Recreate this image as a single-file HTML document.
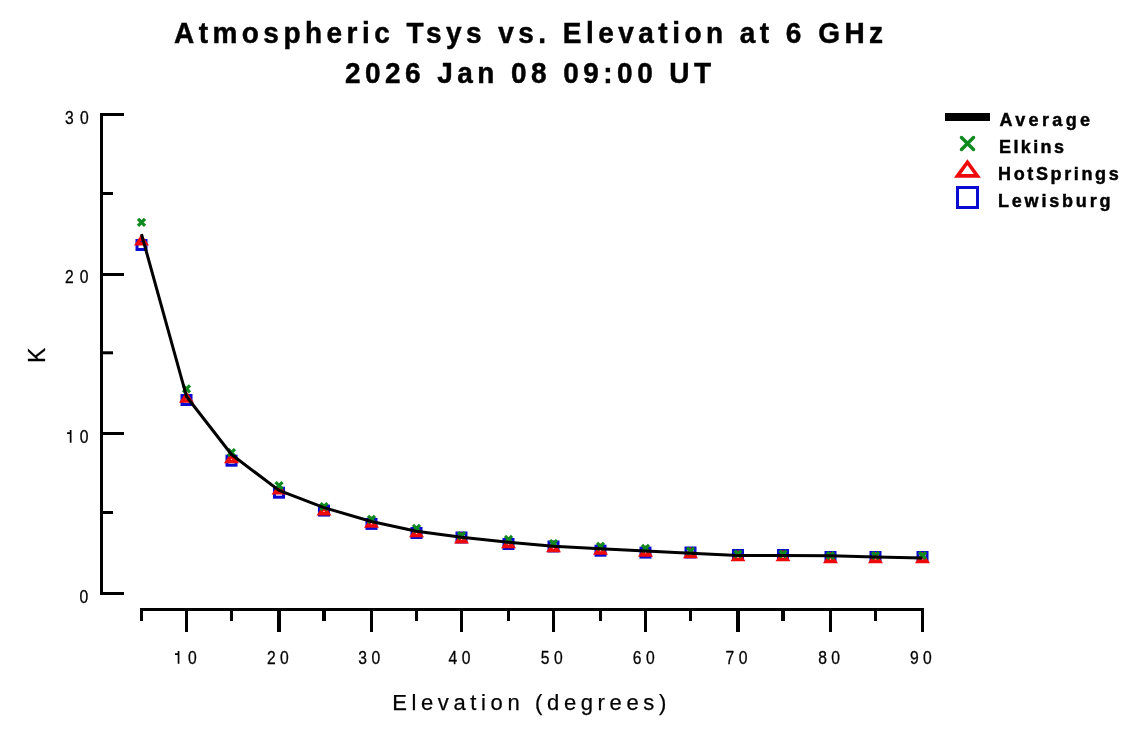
<!DOCTYPE html>
<html><head><meta charset="utf-8">
<style>
html,body{margin:0;padding:0;background:#fff;width:1125px;height:731px;overflow:hidden}
svg{position:absolute;left:0;top:0;will-change:transform}
text{font-family:"Liberation Sans",sans-serif;fill:#000}
.b{font-weight:bold;stroke:#000;stroke-width:0.45px}
.r{stroke:#000;stroke-width:0.25px}
.tkl{stroke-width:0.3px}
</style></head>
<body>
<svg width="1125" height="731" viewBox="0 0 1125 731">
<text class="b" x="0" y="0" transform="translate(173.96,42.91) scale(1,1.05)" style="font-size:28px;letter-spacing:4.475px">Atmospheric Tsys vs. Elevation at 6 GHz</text>
<text class="b" x="0" y="0" transform="translate(345.08,82.99) scale(1,1.05)" style="font-size:28px;letter-spacing:4.447px">2026 Jan 08 09:00 UT</text>
<text class="r tkl" x="0" y="0" transform="translate(65.02,124.14) scale(0.87,1)" style="font-size:18px;letter-spacing:7.218px">30</text>
<text class="r tkl" x="0" y="0" transform="translate(65.00,283.11) scale(0.87,1)" style="font-size:18px;letter-spacing:6.949px">20</text>
<text class="r tkl" x="0" y="0" transform="translate(79.39,602.83) scale(0.87,1)" style="font-size:18px;letter-spacing:5.057px">0</text>
<text class="r tkl" x="0" y="0" transform="translate(266.91,663.89) scale(0.87,1)" style="font-size:18px;letter-spacing:5.057px">20</text>
<text class="r tkl" x="0" y="0" transform="translate(358.30,663.89) scale(0.87,1)" style="font-size:18px;letter-spacing:5.057px">30</text>
<text class="r tkl" x="0" y="0" transform="translate(448.58,664.25) scale(0.87,1)" style="font-size:18px;letter-spacing:5.057px">40</text>
<text class="r tkl" x="0" y="0" transform="translate(540.86,664.25) scale(0.87,1)" style="font-size:18px;letter-spacing:5.057px">50</text>
<text class="r tkl" x="0" y="0" transform="translate(632.85,663.58) scale(0.87,1)" style="font-size:18px;letter-spacing:5.057px">60</text>
<text class="r tkl" x="0" y="0" transform="translate(725.55,664.25) scale(0.87,1)" style="font-size:18px;letter-spacing:5.057px">70</text>
<text class="r tkl" x="0" y="0" transform="translate(818.25,663.91) scale(0.87,1)" style="font-size:18px;letter-spacing:5.057px">80</text>
<text class="r tkl" x="0" y="0" transform="translate(909.89,663.81) scale(0.87,1)" style="font-size:18px;letter-spacing:5.057px">90</text>
<path d="M67.10,432.20 L69.80,432.20 L69.80,430.00 L71.50,430.00 L71.50,442.80 L69.80,442.80 L69.80,434.00 L67.10,434.00 Z" fill="#000"/>
<text class="r tkl" transform="translate(79.80,443) scale(0.87,1)" style="font-size:18px">0</text>
<path d="M175.00,653.20 L177.70,653.20 L177.70,651.00 L179.40,651.00 L179.40,663.80 L177.70,663.80 L177.70,655.00 L175.00,655.00 Z" fill="#000"/>
<text class="r tkl" transform="translate(188.10,663.89) scale(0.87,1)" style="font-size:18px">0</text>
<text class="r" x="392.13" y="709.80" style="font-size:22px;letter-spacing:4.632px">Elevation (degrees)</text>
<text class="r" transform="translate(45.00,363.00) rotate(-90)" style="font-size:23px">K</text>
<text class="b" x="999.46" y="125.63" style="font-size:18px;letter-spacing:3.383px">Average</text>
<text class="b" x="999.01" y="153.01" style="font-size:18px;letter-spacing:2.398px">Elkins</text>
<text class="b" x="998.01" y="180.09" style="font-size:18px;letter-spacing:2.634px">HotSprings</text>
<text class="b" x="998.01" y="207.05" style="font-size:18px;letter-spacing:2.805px">Lewisburg</text>
<rect x="100" y="113" width="3" height="482" fill="#000"/>
<rect x="100" y="592.00" width="24" height="3" fill="#000"/>
<rect x="100" y="511.00" width="13" height="3" fill="#000"/>
<rect x="100" y="432.00" width="24" height="3" fill="#000"/>
<rect x="100" y="351.30" width="13" height="3" fill="#000"/>
<rect x="100" y="273.00" width="24" height="3" fill="#000"/>
<rect x="100" y="192.00" width="13" height="3" fill="#000"/>
<rect x="100" y="113.00" width="24" height="3" fill="#000"/>
<rect x="140" y="608" width="784" height="3" fill="#000"/>
<rect x="140.00" y="608" width="3" height="13" fill="#000"/>
<rect x="185.00" y="608" width="3" height="24" fill="#000"/>
<rect x="230.00" y="608" width="3" height="13" fill="#000"/>
<rect x="277.00" y="608" width="4" height="24" fill="#000"/>
<rect x="322.00" y="608" width="4" height="13" fill="#000"/>
<rect x="370.00" y="608" width="3" height="24" fill="#000"/>
<rect x="415.00" y="608" width="3" height="13" fill="#000"/>
<rect x="460.00" y="608" width="3" height="24" fill="#000"/>
<rect x="507.00" y="608" width="3" height="13" fill="#000"/>
<rect x="552.00" y="608" width="3" height="24" fill="#000"/>
<rect x="599.00" y="608" width="3" height="13" fill="#000"/>
<rect x="644.00" y="608" width="3" height="24" fill="#000"/>
<rect x="689.00" y="608" width="3" height="13" fill="#000"/>
<rect x="736.00" y="608" width="4" height="24" fill="#000"/>
<rect x="781.00" y="608" width="4" height="13" fill="#000"/>
<rect x="829.00" y="608" width="3" height="24" fill="#000"/>
<rect x="874.00" y="608" width="3" height="13" fill="#000"/>
<rect x="921.00" y="608" width="3" height="24" fill="#000"/>
<rect x="137.00" y="240.50" width="9" height="9" fill="none" stroke="#0a0ad0" stroke-width="3"/>
<rect x="182.00" y="395.50" width="9" height="9" fill="none" stroke="#0a0ad0" stroke-width="3"/>
<rect x="227.00" y="456.20" width="9" height="9" fill="none" stroke="#0a0ad0" stroke-width="3"/>
<rect x="274.50" y="488.20" width="9" height="9" fill="none" stroke="#0a0ad0" stroke-width="3"/>
<rect x="319.50" y="506.10" width="9" height="9" fill="none" stroke="#0a0ad0" stroke-width="3"/>
<rect x="367.00" y="519.40" width="9" height="9" fill="none" stroke="#0a0ad0" stroke-width="3"/>
<rect x="412.00" y="528.50" width="9" height="9" fill="none" stroke="#0a0ad0" stroke-width="3"/>
<rect x="457.00" y="533.00" width="9" height="9" fill="none" stroke="#0a0ad0" stroke-width="3"/>
<rect x="504.00" y="539.50" width="9" height="9" fill="none" stroke="#0a0ad0" stroke-width="3"/>
<rect x="549.00" y="542.00" width="9" height="9" fill="none" stroke="#0a0ad0" stroke-width="3"/>
<rect x="596.00" y="546.20" width="9" height="9" fill="none" stroke="#0a0ad0" stroke-width="3"/>
<rect x="641.00" y="548.10" width="9" height="9" fill="none" stroke="#0a0ad0" stroke-width="3"/>
<rect x="686.00" y="548.00" width="9" height="9" fill="none" stroke="#0a0ad0" stroke-width="3"/>
<rect x="733.50" y="550.50" width="9" height="9" fill="none" stroke="#0a0ad0" stroke-width="3"/>
<rect x="778.50" y="550.50" width="9" height="9" fill="none" stroke="#0a0ad0" stroke-width="3"/>
<rect x="826.00" y="552.50" width="9" height="9" fill="none" stroke="#0a0ad0" stroke-width="3"/>
<rect x="871.00" y="552.50" width="9" height="9" fill="none" stroke="#0a0ad0" stroke-width="3"/>
<rect x="918.00" y="552.50" width="9" height="9" fill="none" stroke="#0a0ad0" stroke-width="3"/>
<path d="M137.32,243.75 L141.50,237.35 L145.68,243.75 Z" fill="none" stroke="#ee0a0a" stroke-width="3.6" stroke-linejoin="miter"/>
<path d="M182.32,400.95 L186.50,394.55 L190.68,400.95 Z" fill="none" stroke="#ee0a0a" stroke-width="3.6" stroke-linejoin="miter"/>
<path d="M227.32,461.55 L231.50,455.15 L235.68,461.55 Z" fill="none" stroke="#ee0a0a" stroke-width="3.6" stroke-linejoin="miter"/>
<path d="M274.82,492.75 L279.00,486.35 L283.18,492.75 Z" fill="none" stroke="#ee0a0a" stroke-width="3.6" stroke-linejoin="miter"/>
<path d="M319.82,513.75 L324.00,507.35 L328.18,513.75 Z" fill="none" stroke="#ee0a0a" stroke-width="3.6" stroke-linejoin="miter"/>
<path d="M367.32,525.95 L371.50,519.55 L375.68,525.95 Z" fill="none" stroke="#ee0a0a" stroke-width="3.6" stroke-linejoin="miter"/>
<path d="M412.32,535.45 L416.50,529.05 L420.68,535.45 Z" fill="none" stroke="#ee0a0a" stroke-width="3.6" stroke-linejoin="miter"/>
<path d="M457.32,541.65 L461.50,535.25 L465.68,541.65 Z" fill="none" stroke="#ee0a0a" stroke-width="3.6" stroke-linejoin="miter"/>
<path d="M504.32,546.45 L508.50,540.05 L512.68,546.45 Z" fill="none" stroke="#ee0a0a" stroke-width="3.6" stroke-linejoin="miter"/>
<path d="M549.32,550.45 L553.50,544.05 L557.68,550.45 Z" fill="none" stroke="#ee0a0a" stroke-width="3.6" stroke-linejoin="miter"/>
<path d="M596.32,552.95 L600.50,546.55 L604.68,552.95 Z" fill="none" stroke="#ee0a0a" stroke-width="3.6" stroke-linejoin="miter"/>
<path d="M641.32,554.95 L645.50,548.55 L649.68,554.95 Z" fill="none" stroke="#ee0a0a" stroke-width="3.6" stroke-linejoin="miter"/>
<path d="M686.32,556.45 L690.50,550.05 L694.68,556.45 Z" fill="none" stroke="#ee0a0a" stroke-width="3.6" stroke-linejoin="miter"/>
<path d="M733.82,559.45 L738.00,553.05 L742.18,559.45 Z" fill="none" stroke="#ee0a0a" stroke-width="3.6" stroke-linejoin="miter"/>
<path d="M778.82,559.45 L783.00,553.05 L787.18,559.45 Z" fill="none" stroke="#ee0a0a" stroke-width="3.6" stroke-linejoin="miter"/>
<path d="M826.32,561.35 L830.50,554.95 L834.68,561.35 Z" fill="none" stroke="#ee0a0a" stroke-width="3.6" stroke-linejoin="miter"/>
<path d="M871.32,561.35 L875.50,554.95 L879.68,561.35 Z" fill="none" stroke="#ee0a0a" stroke-width="3.6" stroke-linejoin="miter"/>
<path d="M918.32,561.35 L922.50,554.95 L926.68,561.35 Z" fill="none" stroke="#ee0a0a" stroke-width="3.6" stroke-linejoin="miter"/>
<path d="M139.15,219.95 L143.85,224.65 M139.15,224.65 L143.85,219.95" stroke="#0f8a1f" stroke-width="3.2" stroke-linecap="square"/>
<path d="M184.15,386.55 L188.85,391.25 M184.15,391.25 L188.85,386.55" stroke="#0f8a1f" stroke-width="3.2" stroke-linecap="square"/>
<path d="M229.15,450.15 L233.85,454.85 M229.15,454.85 L233.85,450.15" stroke="#0f8a1f" stroke-width="3.2" stroke-linecap="square"/>
<path d="M276.65,483.25 L281.35,487.95 M276.65,487.95 L281.35,483.25" stroke="#0f8a1f" stroke-width="3.2" stroke-linecap="square"/>
<path d="M321.65,504.15 L326.35,508.85 M321.65,508.85 L326.35,504.15" stroke="#0f8a1f" stroke-width="3.2" stroke-linecap="square"/>
<path d="M369.15,516.95 L373.85,521.65 M369.15,521.65 L373.85,516.95" stroke="#0f8a1f" stroke-width="3.2" stroke-linecap="square"/>
<path d="M414.15,526.05 L418.85,530.75 M414.15,530.75 L418.85,526.05" stroke="#0f8a1f" stroke-width="3.2" stroke-linecap="square"/>
<path d="M459.15,533.15 L463.85,537.85 M459.15,537.85 L463.85,533.15" stroke="#0f8a1f" stroke-width="3.2" stroke-linecap="square"/>
<path d="M506.15,537.05 L510.85,541.75 M506.15,541.75 L510.85,537.05" stroke="#0f8a1f" stroke-width="3.2" stroke-linecap="square"/>
<path d="M551.15,541.15 L555.85,545.85 M551.15,545.85 L555.85,541.15" stroke="#0f8a1f" stroke-width="3.2" stroke-linecap="square"/>
<path d="M598.15,543.95 L602.85,548.65 M598.15,548.65 L602.85,543.95" stroke="#0f8a1f" stroke-width="3.2" stroke-linecap="square"/>
<path d="M643.15,546.05 L647.85,550.75 M643.15,550.75 L647.85,546.05" stroke="#0f8a1f" stroke-width="3.2" stroke-linecap="square"/>
<path d="M688.15,548.65 L692.85,553.35 M688.15,553.35 L692.85,548.65" stroke="#0f8a1f" stroke-width="3.2" stroke-linecap="square"/>
<path d="M735.65,551.65 L740.35,556.35 M735.65,556.35 L740.35,551.65" stroke="#0f8a1f" stroke-width="3.2" stroke-linecap="square"/>
<path d="M780.65,551.65 L785.35,556.35 M780.65,556.35 L785.35,551.65" stroke="#0f8a1f" stroke-width="3.2" stroke-linecap="square"/>
<path d="M828.15,553.15 L832.85,557.85 M828.15,557.85 L832.85,553.15" stroke="#0f8a1f" stroke-width="3.2" stroke-linecap="square"/>
<path d="M873.15,553.15 L877.85,557.85 M873.15,557.85 L877.85,553.15" stroke="#0f8a1f" stroke-width="3.2" stroke-linecap="square"/>
<path d="M920.15,553.15 L924.85,557.85 M920.15,557.85 L924.85,553.15" stroke="#0f8a1f" stroke-width="3.2" stroke-linecap="square"/>
<polyline points="141.50,234.12 186.50,396.47 231.50,454.49 279.00,490.40 324.00,507.68 371.50,521.44 416.50,531.23 461.50,537.36 508.50,542.21 553.50,546.36 600.50,548.87 645.50,550.93 690.50,553.29 738.00,555.40 783.00,555.47 830.50,555.82 875.50,557.03 922.50,557.99" fill="none" stroke="#000" stroke-width="3" stroke-linejoin="round"/>
<rect x="945" y="113" width="45" height="8" fill="#000"/>
<path d="M961.5,137.5 L973.5,149.5 M961.5,149.5 L973.5,137.5" stroke="#0f8a1f" stroke-width="3.5" stroke-linecap="round"/>
<path d="M957.5,175.9 L967.45,162.2 L977.4,175.9 Z" fill="none" stroke="#ee0a0a" stroke-width="3.6"/>
<rect x="957.5" y="187.5" width="20" height="20" fill="none" stroke="#0a0ad0" stroke-width="3"/>
</svg>
</body></html>
